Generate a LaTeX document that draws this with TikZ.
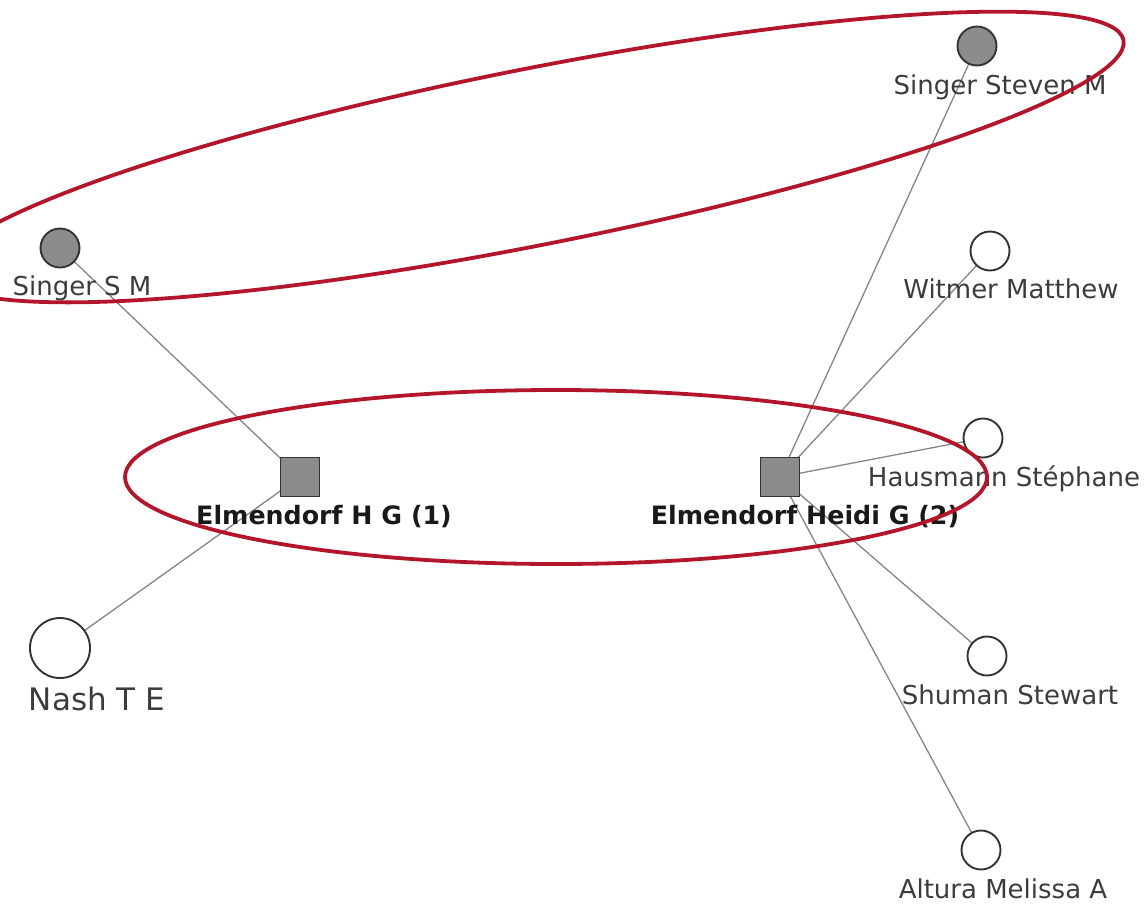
\documentclass[tikz,border=0pt]{standalone}
\usepackage{fontspec}
\setmainfont{DejaVu Sans}
\usetikzlibrary{backgrounds}
\definecolor{nodeedge}{HTML}{333333}
\definecolor{nodefill}{HTML}{8C8C8C}
\definecolor{linkgray}{HTML}{858585}
\definecolor{ringred}{HTML}{B3152A}
\definecolor{labgray}{HTML}{3C3C3C}
\begin{document}
\begin{tikzpicture}[x=1pt,y=-1pt,
  person/.style={circle, draw=nodeedge, line width=1.9pt, fill=white,
    minimum size=39pt, inner sep=0pt},
  personfilled/.style={person, fill=nodefill},
  bigperson/.style={person, minimum size=60pt},
  paper/.style={rectangle, draw=nodeedge, line width=1.9pt, fill=nodefill,
    minimum size=39pt, inner sep=0pt},
  lab/.style={anchor=base, inner sep=0pt, text=labgray,
    font=\fontsize{26}{30}\selectfont},
  biglab/.style={lab, font=\fontsize{31}{36}\selectfont},
  boldlab/.style={anchor=base, inner sep=0pt, text=black!90,
    font=\bfseries\fontsize{25.3}{30}\selectfont},
  link/.style={draw=linkgray, line width=1.3pt},
  ring/.style={draw=ringred, line width=3.8pt}]
\useasboundingbox (0,0) rectangle (1146,906);

% authors
\node[personfilled] (ssm)  at (60,248)  {};
\node[personfilled] (ssvm) at (977,46)  {};
\node[person]       (wm)   at (990,251) {};
\node[person]       (hs)   at (983,438) {};
\node[person]       (shs)  at (987,656) {};
\node[person]       (ama)  at (981,850) {};
\node[bigperson]    (nte)  at (60,648)  {};

% publications
\node[paper] (hg1) at (300,477) {};
\node[paper] (hg2) at (780,477) {};

% co-authorship links, kept behind the nodes
\begin{pgfonlayer}{background}
\draw[link] (ssm.center) -- (hg1.center);
\draw[link] (nte.center) -- (hg1.center);
\draw[link] (hg2.center) -- (ssvm.center);
\draw[link] (hg2.center) -- (wm.center);
\draw[link] (hg2.center) -- (hs.center);
\draw[link] (hg2.center) -- (shs.center);
\draw[link] (hg2.center) -- (ama.center);
\end{pgfonlayer}

% labels
\node[lab] (ssm-l)  at (82,295)   {Singer S M};
\node[lab] (ssvm-l) at (1000,94)  {Singer Steven M};
\node[lab] (wm-l)   at (1011,298) {Witmer Matthew};
\node[lab] (hs-l)   at (1004,486) {Hausmann Stéphane};
\node[lab] (shs-l)  at (1010,704) {Shuman Stewart};
\node[lab] (ama-l)  at (1003,898) {Altura Melissa A};
\node[biglab] (nte-l) at (97,710) {Nash T E};
\node[boldlab] (hg1-l) at (324,524) {Elmendorf H G (1)};
\node[boldlab] (hg2-l) at (805,524) {Elmendorf Heidi G (2)};

% highlighted groups
\coordinate (c1) at (533,157);
\coordinate (c2) at (556,477);
\draw[ring, rotate around={11.2:(c1)}] (c1) ellipse [x radius=602, y radius=88];
\draw[ring] (c2) ellipse [x radius=431, y radius=87];
\end{tikzpicture}
\end{document}
